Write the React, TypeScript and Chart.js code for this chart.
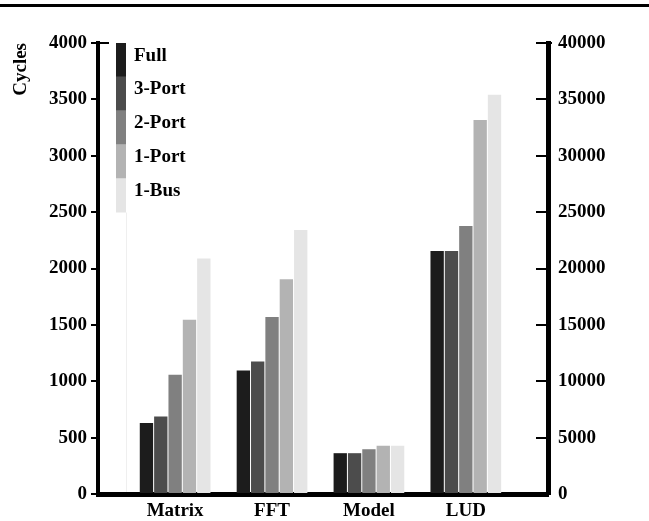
import React, { useEffect, useRef } from "react";
import { Chart, registerables } from "chart.js";

Chart.register(...registerables);

const categories = ["Matrix", "FFT", "Model", "LUD"];
const seriesNames = ["Full", "3-Port", "2-Port", "1-Port", "1-Bus"];
const seriesColors = ["#1c1c1c", "#4c4c4c", "#808080", "#b3b3b3", "#e5e5e5"];

const fullValues = [630, 1095, 362, 2155];
const port3Values = [688, 1175, 362, 2155];
const port2Values = [1058, 1570, 397, 2377];
const port1Values = [1545, 1905, 428, 3317];
const busValues = [2088, 2341, 428, 3542];

const leftTicks = [0, 500, 1000, 1500, 2000, 2500, 3000, 3500, 4000];
const rightTicks = [0, 5000, 10000, 15000, 20000, 25000, 30000, 35000, 40000];

const FONT = "'Liberation Serif', 'Times New Roman', serif";

const decorPlugin = {
  id: "decor",
  afterDraw(chart: any) {
    const { ctx, chartArea: a, scales } = chart;
    const y = scales.y;
    const y2 = scales.y2;
    const line = (x1: number, y1: number, x2: number, yy2: number) => {
      ctx.beginPath();
      ctx.moveTo(x1, y1);
      ctx.lineTo(x2, yy2);
      ctx.stroke();
    };
    ctx.save();
    // top rule
    ctx.fillStyle = "#000";
    ctx.fillRect(0, 4, chart.width, 3);
    // right axis inward ticks
    ctx.strokeStyle = "#000";
    ctx.lineWidth = 2;
    y2.ticks.forEach((t: any) => {
      const py = Math.round(y2.getPixelForValue(t.value));
      line(a.right - 12, py, a.right, py);
    });
    const top = Math.round(y.getPixelForValue(4000));
    line(a.left, top, a.left + 11, top);
    line(a.right, top, a.right + 4, top);

    // legend
    const boxX = a.left + 18;
    const boxW = 10;
    const boxH = 33.9;
    ctx.font = `bold 19px ${FONT}`;
    ctx.textBaseline = "alphabetic";
    ctx.textAlign = "left";
    chart.data.datasets.forEach((ds: any, i: number) => {
      const by = a.top + i * boxH;
      ctx.fillStyle = ds.backgroundColor;
      ctx.fillRect(boxX, by, boxW, boxH);
      ctx.fillStyle = "#000";
      ctx.fillText(ds.label, boxX + 18, by + 17.5);
    });
    // faint empty box remainder
    ctx.strokeStyle = "#efefef";
    ctx.lineWidth = 1;
    line(boxX + boxW + 0.5, a.top + 5 * boxH, boxX + boxW + 0.5, a.bottom - 2);
    ctx.restore();
  },
};

export default function App() {
  const ref = useRef<HTMLCanvasElement>(null);

  useEffect(() => {
    if (!ref.current) return;
    const valueSets = [fullValues, port3Values, port2Values, port1Values, busValues];
    const chart = new Chart(ref.current, {
      type: "bar",
      data: {
        datasets: valueSets.map((vals, i) => ({
          label: seriesNames[i],
          data: vals.map((v, j) => ({ x: j + 1, y: v })),
          backgroundColor: seriesColors[i],
          borderWidth: 0,
          categoryPercentage: 0.74,
          barPercentage: 0.93,
          yAxisID: "y",
        })),
      },
      options: {
        animation: false,
        responsive: false,
        devicePixelRatio: 1,
        layout: { padding: { top: 43, right: 0, left: 0, bottom: 0 } },
        plugins: { legend: { display: false }, tooltip: { enabled: false } },
        scales: {
          x: {
            type: "linear",
            position: "bottom",
            offset: false,
            min: 0.204,
            max: 4.848,
            grid: { display: false, drawTicks: false, offset: false },
            border: { display: true, color: "#000", width: 5 },
            afterBuildTicks: (scale: any) => {
              scale.ticks = categories.map((_, i) => ({ value: i + 1 }));
            },
            afterFit: (scale: any) => {
              scale.height = 27;
            },
            ticks: {
              autoSkip: false,
              maxRotation: 0,
              padding: 6,
              color: "#000",
              font: { family: FONT, size: 19, weight: "bold" },
              callback: (v: any) => categories[Math.round(Number(v)) - 1] ?? "",
            },
          },
          y: {
            position: "left",
            min: 0,
            max: 4000,
            afterBuildTicks: (scale: any) => {
              scale.ticks = leftTicks.map((v) => ({ value: v }));
            },
            afterFit: (scale: any) => {
              scale.width = 98;
            },
            grid: {
              drawOnChartArea: false,
              drawTicks: true,
              tickLength: 7,
              lineWidth: 2,
              color: "#000",
            },
            border: { display: true, color: "#000", width: 4 },
            ticks: {
              padding: 4,
              color: "#000",
              font: { family: FONT, size: 19, weight: "bold" },
              callback: (v: any) => String(v),
            },
            title: {
              display: true,
              text: "Cycles",
              align: "end",
              color: "#000",
              padding: { top: 10, bottom: 0 },
              font: { family: FONT, size: 19, weight: "bold" },
            },
          },
          y2: {
            position: "right",
            min: 0,
            max: 40000,
            afterBuildTicks: (scale: any) => {
              scale.ticks = rightTicks.map((v) => ({ value: v }));
            },
            afterFit: (scale: any) => {
              scale.width = 101;
            },
            grid: { display: false, drawTicks: false },
            border: { display: true, color: "#000", width: 5 },
            ticks: {
              padding: 10,
              color: "#000",
              font: { family: FONT, size: 19, weight: "bold" },
              callback: (v: any) => String(v),
            },
          },
        },
      },
      plugins: [decorPlugin],
    } as any);
    return () => chart.destroy();
  }, []);

  return (
    <div style={{ position: "absolute", left: 0, top: 0, width: 649, height: 521, background: "#fff" }}>
      <canvas ref={ref} width={649} height={521} style={{ display: "block" }} />
    </div>
  );
}
